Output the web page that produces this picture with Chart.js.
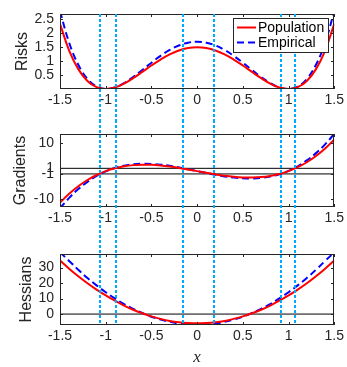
<!DOCTYPE html>
<html>
<head>
<meta charset="utf-8">
<script src="https://cdn.jsdelivr.net/npm/chart.js@4.4.1/dist/chart.umd.min.js"></script>
<style>
  body { margin: 0; background: #fff; width: 347px; height: 367px; overflow: hidden; position: relative; }
  canvas { position: absolute; left: 0; }
</style>
</head>
<body>
<canvas id="riskChart" width="347" height="120" style="top:0"></canvas>
<canvas id="gradChart" width="347" height="120" style="top:120px"></canvas>
<canvas id="hessChart" width="347" height="127" style="top:240px"></canvas>
<script>
  // ----- data -----
  const xVals = [-1.5, -1.4, -1.3, -1.2, -1.1, -1.0, -0.9, -0.8, -0.7, -0.6, -0.5, -0.4, -0.3, -0.2, -0.1, 0,
                 0.1, 0.2, 0.3, 0.4, 0.5, 0.6, 0.7, 0.8, 0.9, 1.0, 1.1, 1.2, 1.3, 1.4, 1.5];

  const popRisk = [2.344, 1.382, 0.714, 0.290, 0.066, 0, 0.054, 0.194, 0.390, 0.614, 0.844, 1.058, 1.242, 1.382, 1.470, 1.5,
                   1.470, 1.382, 1.242, 1.058, 0.844, 0.614, 0.390, 0.194, 0.054, 0, 0.066, 0.290, 0.714, 1.382, 2.344];
  const empRisk = [2.80, 1.664, 0.870, 0.362, 0.089, 0.000, 0.054, 0.208, 0.429, 0.684, 0.945, 1.191, 1.402, 1.563, 1.664, 1.698,
                   1.664, 1.563, 1.402, 1.191, 0.945, 0.684, 0.429, 0.208, 0.054, 0.000, 0.089, 0.362, 0.870, 1.664, 2.80];

  const popGrad = [-11.25, -8.06, -5.38, -3.17, -1.39, 0, 1.03, 1.73, 2.14, 2.30, 2.25, 2.02, 1.64, 1.15, 0.59, 0,
                   -0.59, -1.15, -1.64, -2.02, -2.25, -2.30, -2.14, -1.73, -1.03, 0, 1.39, 3.17, 5.38, 8.06, 11.25];
  const empGrad = [-13.28, -9.56, -6.42, -3.82, -1.73, -0.11, 1.10, 1.93, 2.43, 2.63, 2.57, 2.31, 1.88, 1.32, 0.68, 0,
                   -0.68, -1.32, -1.88, -2.31, -2.57, -2.63, -2.43, -1.93, -1.10, 0.11, 1.73, 3.82, 6.42, 9.56, 13.28];

  const popHess = [34.5, 29.3, 24.4, 19.9, 15.8, 12.0, 8.6, 5.5, 2.8, 0.5, -1.5, -3.1, -4.4, -5.3, -5.8, -6.0,
                   -5.8, -5.3, -4.4, -3.1, -1.5, 0.5, 2.8, 5.5, 8.6, 12.0, 15.8, 19.9, 24.4, 29.3, 34.5];
  const empHess = [39.8, 34.3, 28.6, 23.3, 18.5, 14.1, 10.1, 6.5, 3.4, 0.7, -1.7, -3.5, -5.0, -6.1, -6.7, -6.9,
                   -6.7, -6.1, -5.0, -3.5, -1.7, 0.7, 3.4, 6.5, 10.1, 14.1, 18.5, 23.3, 28.6, 34.3, 39.8];

  // dotted guide lines (x positions) and reference levels
  const vLines = [-1.06, -0.89, -0.15, 0.18, 0.92, 1.07];
  const gradLevels = [-1, 1];
  const hessLevels = [0];

  // ticks
  const xTicks = [-1.5, -1, -0.5, 0, 0.5, 1, 1.5];
  const riskTicks = [0.5, 1, 1.5, 2, 2.5];
  const gradTicks = [-10, -1, 1, 10];
  const hessTicks = [0, 10, 20, 30];

  const seriesLabels = ['Population', 'Empirical'];

  const SANS = "'Liberation Sans', Arial, Helvetica, sans-serif";
  const SERIF = "'Liberation Serif', 'Times New Roman', serif";
  const INK = '#262626';

  const pts = ys => xVals.map((x, i) => ({ x, y: ys[i] }));
  const level = v => [{ x: xVals[0], y: v }, { x: xVals[xVals.length - 1], y: v }];

  function curveSets(pop, emp) {
    return [
      { label: seriesLabels[0], data: pts(pop), borderColor: '#ff0000', borderWidth: 2, pointRadius: 0, tension: 0.4 },
      { label: seriesLabels[1], data: pts(emp), borderColor: '#0000ff', borderWidth: 2, borderDash: [7, 4], pointRadius: 0, tension: 0.4 }
    ];
  }

  // box, inward ticks, dotted guides, legend, axis titles
  const frame = {
    id: 'frame',
    afterDatasetsDraw(chart, args, o) {
      const { ctx, chartArea: a, scales: { x, y } } = chart;
      const L = Math.round(a.left), R = Math.round(a.right), T = Math.round(a.top), B = Math.round(a.bottom);
      ctx.save();
      // inward ticks
      ctx.strokeStyle = INK; ctx.lineWidth = 1;
      ctx.beginPath();
      x.ticks.forEach(t => {
        const px = Math.round(x.getPixelForValue(t.value)) + 0.5;
        ctx.moveTo(px, B); ctx.lineTo(px, B - 3);
        ctx.moveTo(px, T); ctx.lineTo(px, T + 3);
      });
      y.ticks.forEach(t => {
        const py = Math.round(y.getPixelForValue(t.value)) + 0.5;
        ctx.moveTo(L, py); ctx.lineTo(L + 3, py);
        ctx.moveTo(R, py); ctx.lineTo(R - 3, py);
      });
      ctx.stroke();
      ctx.strokeRect(L + 0.5, T + 0.5, R - L - 1, B - T - 1);

      // dotted guides run through the gaps between panels
      ctx.strokeStyle = '#00aaff'; ctx.lineWidth = 2; ctx.setLineDash([3, 2]);
      const top = o.fromArea ? T : 0;
      const bottom = o.toArea ? B : chart.height;
      vLines.forEach(v => {
        const px = Math.round(x.getPixelForValue(v));
        ctx.beginPath(); ctx.moveTo(px, top); ctx.lineTo(px, bottom); ctx.stroke();
      });
      ctx.setLineDash([]);

      // y title (rotated) and optional x title
      ctx.fillStyle = INK;
      ctx.font = '16px ' + SANS;
      ctx.textAlign = 'center'; ctx.textBaseline = 'middle';
      ctx.save();
      ctx.translate(o.titleX, (T + B) / 2);
      ctx.rotate(-Math.PI / 2);
      ctx.fillText(o.yTitle, 0, 0);
      ctx.restore();
      if (o.xTitle) {
        ctx.font = 'italic 17px ' + SERIF;
        ctx.fillText(o.xTitle, (L + R) / 2, o.xTitleY);
      }

      if (o.legend) {
        ctx.font = '14px ' + SANS;
        ctx.textAlign = 'left';
        const w = Math.max(...seriesLabels.map(s => ctx.measureText(s).width));
        const bw = Math.round(26 + w + 3), bh = 34;
        const bx = Math.round(R - 6 - bw), by = T + 4;
        ctx.fillStyle = '#fff'; ctx.fillRect(bx, by, bw, bh);
        ctx.strokeStyle = INK; ctx.lineWidth = 1; ctx.strokeRect(bx + 0.5, by + 0.5, bw, bh);
        chart.data.datasets.slice(0, 2).forEach((ds, i) => {
          const ly = by + 9.5 + i * 15;
          ctx.strokeStyle = ds.borderColor; ctx.lineWidth = 2; ctx.setLineDash(ds.borderDash || []);
          ctx.beginPath(); ctx.moveTo(bx + 4, ly); ctx.lineTo(bx + 23, ly); ctx.stroke();
          ctx.setLineDash([]);
          ctx.fillStyle = '#000'; ctx.textBaseline = 'middle';
          ctx.fillText(ds.label, bx + 25, ly + 1);
        });
      }
      ctx.restore();
    }
  };

  function makeChart(id, datasets, o) {
    return new Chart(document.getElementById(id), {
      type: 'line',
      data: { datasets },
      plugins: [frame],
      options: {
        responsive: false,
        animation: false,
        layout: { padding: { top: o.padTop, right: 11, bottom: 0, left: 0 } },
        plugins: {
          legend: { display: false },
          tooltip: { enabled: false },
          frame: o.frame
        },
        scales: {
          x: {
            type: 'linear', min: -1.5, max: 1.5,
            grid: { display: false, drawTicks: false }, border: { display: false },
            afterBuildTicks: s => { s.ticks = xTicks.map(v => ({ value: v })); },
            afterFit: s => { s.height = o.xHeight; },
            ticks: { autoSkip: false, maxRotation: 0, minRotation: 0, padding: 3, color: INK,
                     font: { family: SANS, size: 14 }, callback: v => String(v) }
          },
          y: {
            type: 'linear', min: o.yMin, max: o.yMax,
            grid: { display: false, drawTicks: false }, border: { display: false },
            afterBuildTicks: s => { s.ticks = o.yTicks.map(v => ({ value: v })); },
            afterFit: s => { s.width = 60; },
            ticks: { autoSkip: false, padding: 6, color: INK, font: { family: SANS, size: 14 }, callback: v => String(v) }
          }
        }
      }
    });
  }

  const black = { borderColor: '#000', borderWidth: 1, pointRadius: 0 };

  makeChart('riskChart', curveSets(popRisk, empRisk), {
    padTop: 5, xHeight: 31, yMin: 0, yMax: 2.68, yTicks: riskTicks,
    frame: { fromArea: true, toArea: false, legend: true, yTitle: 'Risks', titleX: 22.5 }
  });

  makeChart('gradChart', [
    ...curveSets(popGrad, empGrad),
    ...gradLevels.map(v => ({ data: level(v), ...black }))
  ], {
    padTop: 3, xHeight: 33, yMin: -12.8, yMax: 13.1, yTicks: gradTicks,
    frame: { fromArea: false, toArea: false, legend: false, yTitle: 'Gradients', titleX: 21 }
  });

  makeChart('hessChart', [
    ...curveSets(popHess, empHess),
    ...hessLevels.map(v => ({ data: level(v), ...black }))
  ], {
    padTop: 1, xHeight: 42, yMin: -7.05, yMax: 38.5, yTicks: hessTicks,
    frame: { fromArea: false, toArea: true, legend: false, yTitle: 'Hessians', titleX: 26.5, xTitle: 'x', xTitleY: 118 }
  });
</script>
</body>
</html>
